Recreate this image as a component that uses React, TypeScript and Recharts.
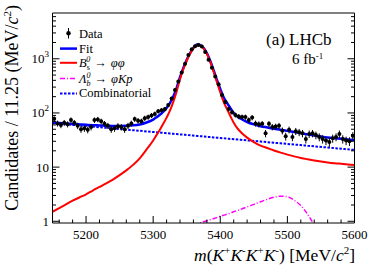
import React from 'react'
import { ComposedChart, Line, Scatter, ErrorBar, XAxis, YAxis } from 'recharts'

// ── data (5 MeV bins) ───────────────────────────────────────────────────────
const BIN_MASS = [
  5152.5, 5157.5, 5162.5, 5167.5, 5172.5, 5177.5, 5182.5, 5187.5, 5192.5, 5197.5,
  5202.5, 5207.5, 5212.5, 5217.5, 5222.5, 5227.5, 5232.5, 5237.5, 5242.5, 5247.5,
  5252.5, 5257.5, 5262.5, 5267.5, 5272.5, 5277.5, 5282.5, 5287.5, 5292.5, 5297.5,
  5302.5, 5307.5, 5312.5, 5317.5, 5322.5, 5327.5, 5332.5, 5337.5, 5342.5, 5347.5,
  5352.5, 5357.5, 5362.5, 5367.5, 5372.5, 5377.5, 5382.5, 5387.5, 5392.5, 5397.5,
  5402.5, 5407.5, 5412.5, 5417.5, 5422.5, 5427.5, 5432.5, 5437.5, 5442.5, 5447.5,
  5452.5, 5457.5, 5462.5, 5467.5, 5472.5, 5477.5, 5482.5, 5487.5, 5492.5, 5497.5,
  5502.5, 5507.5, 5512.5, 5517.5, 5522.5, 5527.5, 5532.5, 5537.5, 5542.5, 5547.5,
  5552.5, 5557.5, 5562.5, 5567.5, 5572.5, 5577.5, 5582.5, 5587.5, 5592.5, 5597.5,
]
const COUNTS = [
  78, 64, 60, 66, 62, 74, 66, 58, 50, 52,
  49, 55, 74, 76, 70, 63, 58, 50, 52, 57,
  55, 50, 58, 64, 77, 72, 70, 80, 84, 90,
  96, 108, 112, 118, 140, 185, 265, 380, 560, 810,
  1180, 1500, 1700, 1800, 1680, 1330, 960, 680, 470, 340,
  215, 160, 118, 103, 92, 86, 84, 84, 74, 82,
  64, 62, 63, 42, 63, 55, 56, 58, 47, 37,
  49, 36, 46, 44, 42, 33, 41, 42, 39, 36,
  33, 31, 29, 34, 36, 41, 33, 31, 30, 38,
]

// ── fit curves ──────────────────────────────────────────────────────────────
const CURVE_MASS = [
  5150, 5160, 5170, 5180, 5190, 5200, 5210, 5220, 5230, 5240, 5250, 5260, 5270, 5280, 5290, 5300,
  5305, 5310, 5315, 5320, 5325, 5330, 5335, 5340, 5345, 5350, 5355, 5360, 5365, 5370, 5375, 5380,
  5385, 5390, 5395, 5400, 5405, 5410, 5415, 5420, 5425, 5430,
  5440, 5450, 5460, 5470, 5480, 5490, 5500, 5510, 5520, 5530, 5540, 5550, 5560, 5570, 5580, 5590, 5600,
]
const FIT = [
  66.5, 65.2, 63.9, 62.6, 61.5, 60.5, 59.5, 58.8, 58.1, 57.7, 57.6, 57.9, 59.0, 61.3, 66.6, 75.5,
  83, 92.4, 106, 124, 152, 201, 291, 460, 680, 959, 1279, 1599, 1828, 1798, 1598, 1277,
  917, 616, 406, 276, 195, 153, 123, 100, 87, 79,
  68.1, 61.5, 57, 54, 51.3, 48.9, 46.7, 44.4, 42.3, 40.2, 38.4, 36.8, 35.2, 34.2, 33.4, 32.5, 31.8,
]
const BS_PHIPHI = [
  1.5, 1.75, 2.05, 2.4, 2.75, 3.15, 3.7, 4.3, 5.0, 5.9, 7.1, 8.7, 11, 14.5, 21, 31,
  39, 49, 63, 82, 110, 160, 250, 420, 640, 920, 1240, 1560, 1790, 1760, 1560, 1240,
  880, 580, 370, 240, 160, 118, 88, 66, 53, 45,
  35, 29, 25, 22.5, 20.3, 18.5, 17, 15.8, 14.8, 14, 13.3, 12.7, 12.2, 11.8, 11.5, 11.2, 11.0,
]
const LB_PHIKP = [
  null, null, null, null, null, null, null, null, null, null, null, null, null, null, null, null,
  null, null, null, null, null, null, null, null, null, null, null, 0.85, 0.89, 0.93, 0.98, 1.02,
  1.07, 1.12, 1.17, 1.23, 1.29, 1.35, 1.42, 1.5, 1.57, 1.65,
  1.85, 2.05, 2.3, 2.55, 2.78, 2.9, 2.85, 2.45, 1.95, 1.35, 0.85, 0.5, null, null, null, null, null,
]
const COMBINATORIAL = [
  65.0, 63.4, 61.8, 60.2, 58.7, 57.3, 55.8, 54.5, 53.1, 51.8, 50.5, 49.2, 48.0, 46.8, 45.6, 44.5,
  44.0, 43.4, 42.9, 42.3, 41.8, 41.2, 40.7, 40.2, 39.7, 39.2, 38.7, 38.2, 37.7, 37.3, 36.8, 36.3,
  35.9, 35.4, 35.0, 34.5, 34.1, 33.7, 33.2, 32.8, 32.4, 32.0,
  31.2, 30.4, 29.7, 28.9, 28.2, 27.5, 26.8, 26.1, 25.5, 24.8, 24.2, 23.6, 23.0, 22.4, 21.9, 21.3, 20.8,
]

// ── axes ────────────────────────────────────────────────────────────────────
const X_TICKS = [
  5160, 5180, 5200, 5220, 5240, 5260, 5280, 5300, 5320, 5340, 5360, 5380,
  5400, 5420, 5440, 5460, 5480, 5500, 5520, 5540, 5560, 5580, 5600,
]
const Y_TICKS = [
  1, 2, 3, 4, 5, 6, 7, 8, 9,
  10, 20, 30, 40, 50, 60, 70, 80, 90,
  100, 200, 300, 400, 500, 600, 700, 800, 900,
  1000, 2000, 3000, 4000, 5000, 6000,
]
const Y_LABELS: Record<number, [string, string]> = { 1: ['1', ''], 10: ['10', ''], 100: ['10', '2'], 1000: ['10', '3'] }

const W = 374
const H = 268
const PL = 52.5
const PR = 354.5
const PT = 13
const PB = 223
const MAJ = 7
const MIN = 3.5
const FONT = '"Liberation Serif", "DejaVu Serif", serif'

const points = BIN_MASS.map((m, i) => ({ m, n: COUNTS[i], err: Math.sqrt(COUNTS[i]) }))
const curves = CURVE_MASS.map((m, i) => ({
  m, fit: FIT[i], bs: BS_PHIPHI[i], lb: LB_PHIKP[i], comb: COMBINATORIAL[i],
}))

function BottomTick(p: any) {
  const v = p.payload.value
  const major = v % 100 === 0
  return (
    <g>
      <line x1={p.x} x2={p.x} y1={PB} y2={PB - (major ? MAJ : MIN)} stroke="#000" />
      {major && (
        <text x={p.x} y={PB + 16} textAnchor="middle" fontSize={13} fontFamily={FONT} fill="#000">{v}</text>
      )}
    </g>
  )
}

function TopTick(p: any) {
  const major = p.payload.value % 100 === 0
  return <line x1={p.x} x2={p.x} y1={PT} y2={PT + (major ? MAJ : MIN)} stroke="#000" />
}

function LeftTick(p: any) {
  const v = p.payload.value
  const lab = Y_LABELS[v]
  return (
    <g>
      <line x1={PL} x2={PL + (lab ? MAJ : MIN)} y1={p.y} y2={p.y} stroke="#000" />
      {lab && (
        <text x={49} y={p.y + 4.5} textAnchor="end" fontSize={13} fontFamily={FONT} fill="#000">
          {lab[0]}
          {lab[1] && <tspan fontSize={9} dy={-6}>{lab[1]}</tspan>}
        </text>
      )}
    </g>
  )
}

function RightTick(p: any) {
  const major = !!Y_LABELS[p.payload.value]
  return <line x1={PR} x2={PR - (major ? MAJ : MIN)} y1={p.y} y2={p.y} stroke="#000" />
}

const Dot = (p: any) => <circle cx={p.cx} cy={p.cy} r={2} fill="#000" />

function Overlay() {
  const sup = { fontSize: 11, dy: -7 }
  return (
    <svg width={W} height={H} style={{ position: 'absolute', left: 0, top: 0, pointerEvents: 'none' }}
      fontFamily={FONT} fill="#000">
      {/* legend */}
      <line x1={68.5} x2={68.5} y1={28} y2={38.5} stroke="#000" strokeWidth={1} />
      <circle cx={68.5} cy={33.2} r={2.2} fill="#000" />
      <text x={79} y={37.5} fontSize={12.5}>Data</text>

      <line x1={60} x2={77} y1={48.6} y2={48.6} stroke="#0000ff" strokeWidth={2.5} />
      <text x={79} y={52.8} fontSize={12.5}>Fit</text>

      <line x1={60} x2={77} y1={62.8} y2={62.8} stroke="#ff0000" strokeWidth={2} />
      <text x={79} y={67} fontSize={12.5}>
        <tspan fontStyle="italic">B</tspan>
        <tspan fontSize={8} dy={3}>s</tspan>
        <tspan fontSize={8} dx={-3.5} dy={-8} fontStyle="italic">0</tspan>
        <tspan dy={5} dx={4}>→</tspan>
        <tspan dx={4} fontStyle="italic">φφ</tspan>
      </text>

      <line x1={60} x2={77} y1={78.6} y2={78.6} stroke="#ff00ff" strokeWidth={1.5} strokeDasharray="5 2 1 2" />
      <text x={79} y={82.5} fontSize={12.5}>
        <tspan fontStyle="italic">Λ</tspan>
        <tspan fontSize={8} dy={3} fontStyle="italic">b</tspan>
        <tspan fontSize={8} dx={-4} dy={-8} fontStyle="italic">0</tspan>
        <tspan dy={5} dx={4}>→</tspan>
        <tspan dx={4} fontStyle="italic">φKp</tspan>
      </text>

      <line x1={60} x2={77} y1={93.6} y2={93.6} stroke="#0000ff" strokeWidth={2} strokeDasharray="2.5 1.5" />
      <text x={79} y={97.3} fontSize={12.5}>Combinatorial</text>

      {/* experiment label */}
      <text x={266} y={45} fontSize={17}>(a) LHCb</text>
      <text x={292} y={64} fontSize={15}>6 fb<tspan fontSize={9} dy={-5}>-1</tspan></text>

      {/* axis titles */}
      <text transform="translate(17.5,5) rotate(-90)" textAnchor="end" fontSize={18}>
        Candidates / 11.25 (MeV/<tspan fontStyle="italic">c</tspan>
        <tspan {...sup}>2</tspan>
        <tspan dy={7}>)</tspan>
      </text>
      <text x={355} y={261} textAnchor="end" fontSize={17.5}>
        <tspan fontStyle="italic">m</tspan>(<tspan fontStyle="italic">K</tspan>
        <tspan {...sup}>+</tspan>
        <tspan dy={7} fontStyle="italic">K</tspan>
        <tspan {...sup}>-</tspan>
        <tspan dy={7} fontStyle="italic">K</tspan>
        <tspan {...sup}>+</tspan>
        <tspan dy={7} fontStyle="italic">K</tspan>
        <tspan {...sup}>-</tspan>
        <tspan dy={7}>) [MeV/</tspan>
        <tspan fontStyle="italic">c</tspan>
        <tspan {...sup}>2</tspan>
        <tspan dy={7}>]</tspan>
      </text>
    </svg>
  )
}

export default function App() {
  const axisLine = { stroke: '#000', strokeWidth: 1 }
  return (
    <div style={{ position: 'absolute', left: 0, top: 0, width: W, height: H, background: '#fff' }}>
      <ComposedChart width={W} height={H}
        margin={{ top: PT - 5, right: W - PR - 5, bottom: H - PB - 30, left: PL - 40 }}>
        <XAxis xAxisId="b" dataKey="m" type="number" domain={[5150, 5600]} allowDataOverflow
          ticks={X_TICKS} interval={0} tickLine={false} axisLine={axisLine} height={30} tick={BottomTick} />
        <XAxis xAxisId="t" orientation="top" type="number" domain={[5150, 5600]} allowDataOverflow
          ticks={X_TICKS} interval={0} tickLine={false} axisLine={axisLine} height={5} tick={TopTick} />
        <YAxis yAxisId="l" type="number" scale="log" domain={[0.93, 7000]} allowDataOverflow
          ticks={Y_TICKS} interval={0} tickLine={false} axisLine={axisLine} width={40} tick={LeftTick} />
        <YAxis yAxisId="r" orientation="right" type="number" scale="log" domain={[0.93, 7000]} allowDataOverflow
          ticks={Y_TICKS} interval={0} tickLine={false} axisLine={axisLine} width={5} tick={RightTick} />

        <Line data={curves} xAxisId="b" yAxisId="l" dataKey="comb" type="monotone" stroke="#0000ff"
          strokeWidth={2} strokeDasharray="2.5 1.5" dot={false} isAnimationActive={false} />
        <Line data={curves} xAxisId="b" yAxisId="l" dataKey="lb" type="monotone" stroke="#ff00ff"
          strokeWidth={1.5} strokeDasharray="5 2 1 2" dot={false} isAnimationActive={false} />
        <Line data={curves} xAxisId="b" yAxisId="l" dataKey="fit" type="monotone" stroke="#0000ff"
          strokeWidth={2.5} dot={false} isAnimationActive={false} />
        <Line data={curves} xAxisId="b" yAxisId="l" dataKey="bs" type="monotone" stroke="#ff0000"
          strokeWidth={2} dot={false} isAnimationActive={false} />
        <Scatter data={points} xAxisId="b" yAxisId="l" dataKey="n" shape={Dot} isAnimationActive={false}>
          <ErrorBar dataKey="err" direction="y" width={0} stroke="#000" strokeWidth={1} isAnimationActive={false} />
        </Scatter>
      </ComposedChart>
      <Overlay />
    </div>
  )
}
